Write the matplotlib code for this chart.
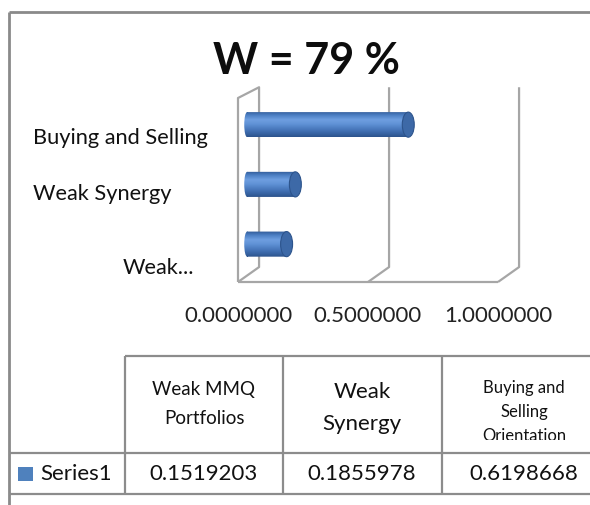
import numpy as np
import matplotlib
matplotlib.use("Agg")
import matplotlib.pyplot as plt
from matplotlib.colors import LinearSegmentedColormap
from matplotlib.lines import Line2D
from matplotlib.patches import Ellipse, Rectangle, PathPatch
from matplotlib.path import Path

TITLE = "W = 79 %"
AXIS_LABELS = ["Weak...", "Weak Synergy", "Buying and Selling"]
TABLE_HEADERS = ["Weak MMQ\nPortfolios", "Weak\nSynergy", "Buying and\nSelling\nOrientation"]
SERIES_NAME = "Series1"
VALUES = [0.1519203, 0.1855978, 0.6198668]
X_TICKS = [0.0, 0.5, 1.0]

W, H = 590, 505
DPI = 100
FONT = "Lato"
GRID_C = "#a6a6a6"
TABLE_C = "#8c8c8c"
BAR_C = "#4f81bd"

# pseudo-3d layout, in data units of the chart axes
FLOOR, TOP_FRONT, TOP_BACK = -0.55, 2.53, 2.46
DEPTH_DX, DEPTH_DY = 0.081, 0.25
BAR_DX, BAR_DY = 0.035, 0.084
BAR_H, CAP_W, LEFT_W = 0.42, 0.046, 0.022


def fx(px):
    return px / W


def fy(py):
    return 1 - py / H


def fig_line(fig, x0, y0, x1, y1, color=TABLE_C, lw=1.6):
    fig.add_artist(Line2D([fx(x0), fx(x1)], [fy(y0), fy(y1)], transform=fig.transFigure,
                          color=color, lw=lw, solid_capstyle="butt"))


fig = plt.figure(figsize=(W / DPI, H / DPI), dpi=DPI)
fig.patch.set_facecolor("white")

ax = fig.add_axes([fx(238), fy(282), fx(260), 184 / H])
ax.set_xlim(0, 1)
ax.set_ylim(FLOOR, TOP_FRONT)
for s in ax.spines.values():
    s.set_visible(False)
ax.set_yticks([])
ax.set_xticks(X_TICKS, [f"{t:.7f}" for t in X_TICKS], fontsize=16, family=FONT, color="#222222")
ax.tick_params(axis="x", length=0, pad=17)

# walls and gridlines
kw = dict(color=GRID_C, lw=1.6, clip_on=False, solid_capstyle="butt")
ax.plot([0, 0, DEPTH_DX, DEPTH_DX, 0], [FLOOR, TOP_FRONT, TOP_BACK + DEPTH_DY,
        FLOOR + DEPTH_DY, FLOOR], **kw)
ax.plot([0, X_TICKS[-1]], [FLOOR, FLOOR], **kw)
for t in X_TICKS[1:]:
    ax.plot([t + DEPTH_DX, t + DEPTH_DX, t], [TOP_BACK + DEPTH_DY, FLOOR + DEPTH_DY, FLOOR], **kw)

# cylinders
shade = LinearSegmentedColormap.from_list(
    "cyl", ["#305b98", "#4f82c6", "#6e9ee0", "#6092d6", "#4c7dc1", "#3b68a9", "#2c538c"])
grad = np.linspace(0, 1, 64).reshape(-1, 1)
for i, v in enumerate(VALUES):
    x0, x1 = BAR_DX, v + BAR_DX
    yc = i + BAR_DY
    left = Ellipse((x0, yc), LEFT_W, BAR_H)
    lpath = left.get_patch_transform().transform_path(left.get_path())
    rect = Path([(x0, yc - BAR_H / 2), (x1, yc - BAR_H / 2), (x1, yc + BAR_H / 2),
                 (x0, yc + BAR_H / 2), (x0, yc - BAR_H / 2)],
                [Path.MOVETO, Path.LINETO, Path.LINETO, Path.LINETO, Path.CLOSEPOLY])
    body = PathPatch(Path.make_compound_path(lpath, rect), transform=ax.transData,
                     facecolor="none", edgecolor="none")
    ax.add_patch(body)
    im = ax.imshow(grad, cmap=shade, aspect="auto", origin="upper",
                   extent=[x0 - LEFT_W / 2, x1, yc - BAR_H / 2, yc + BAR_H / 2], zorder=3)
    im.set_clip_path(body)
    ax.add_patch(Ellipse((x1, yc), CAP_W, BAR_H, facecolor="#3d69a7",
                         edgecolor="#2d548c", lw=0.8, zorder=4))
ax.set_xlim(0, 1)
ax.set_ylim(FLOOR, TOP_FRONT)

# category labels (excel places them a bit loosely)
label_pos = [(123, 268, "left"), (33, 194, "left"), (33, 138, "left")]
for lab, (px, py, ha) in zip(AXIS_LABELS, label_pos):
    fig.text(fx(px), fy(py), lab, ha=ha, va="center", fontsize=15.7, family=FONT, color="#111111")

fig.text(fx(306), fy(61), TITLE, ha="center", va="center", fontsize=31,
         fontweight="bold", family=FONT, color="#0d0d0d")

# outer frame
fig_line(fig, 9, 12, 9, H, color="#8a8a8a", lw=2)
fig_line(fig, 9, 12, W, 12, color="#8a8a8a", lw=2)

# data table
fig_line(fig, 125, 356, W, 356)
fig_line(fig, 9, 453, W, 453)
fig_line(fig, 9, 494, W, 494)
for cx in [125, 283, 442]:
    fig_line(fig, cx, 356, cx, 494)

col_x = [204, 362, 524]
head_fmt = [(13.5, 404, 29), (16, 408, 31), (12, 412, 24)]
for hdr, cx, (fs, cy, lsp) in zip(TABLE_HEADERS, col_x, head_fmt):
    lines = hdr.split("\n")
    n = len(lines)
    for k, ln in enumerate(lines):
        yy = cy + (k - (n - 1) / 2) * lsp
        t = fig.text(fx(cx), fy(yy), ln, ha="center", va="center", fontsize=fs,
                     family=FONT, color="#111111")
        t.set_clip_path(Rectangle((0, fy(440)), 1, 1, transform=fig.transFigure))

fig.add_artist(Rectangle((fx(18), fy(481)), fx(15), 14 / H, transform=fig.transFigure,
                         facecolor=BAR_C, edgecolor="none"))
fig.text(fx(40), fy(474), SERIES_NAME, ha="left", va="center", fontsize=16,
         family=FONT, color="#111111")
for v, cx in zip(VALUES, col_x):
    fig.text(fx(cx), fy(474), f"{v:.7f}", ha="center", va="center", fontsize=16,
             family=FONT, color="#111111")

fig.savefig("out.png", dpi=DPI)
